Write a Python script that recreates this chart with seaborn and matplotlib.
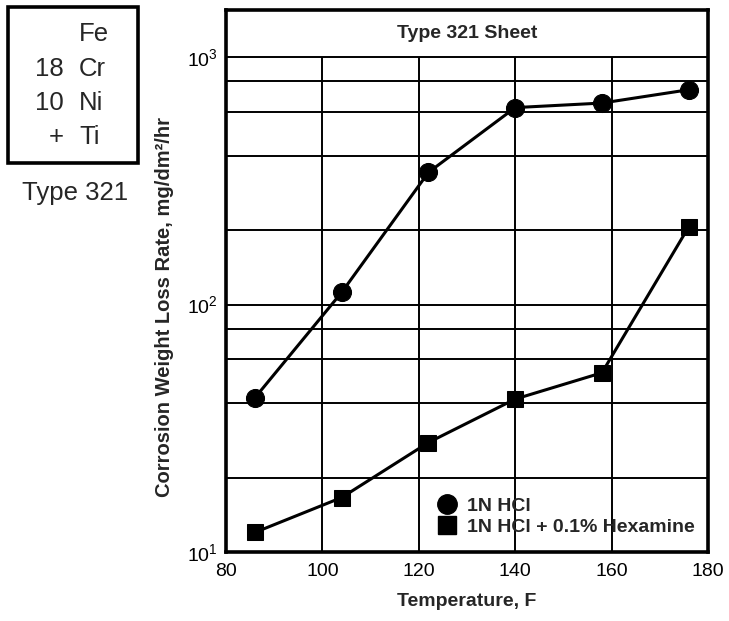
import numpy as np
import pandas as pd
import matplotlib
matplotlib.use("Agg")
import matplotlib.pyplot as plt
import seaborn as sns
from matplotlib.lines import Line2D
from matplotlib.patches import Rectangle
from matplotlib.ticker import FixedLocator, FuncFormatter, NullLocator

temps = [86, 104, 122, 140, 158, 176]
hcl = [42, 112, 342, 625, 652, 738]
hex_temps = [86, 104, 122, 140, 158, 176]
hexamine = [12, 16.6, 27.7, 41.5, 53, 206]
series_names = ["1N HCl", "1N HCl + 0.1% Hexamine"]
x_ticks = [80, 100, 120, 140, 160, 180]
y_ticks = [10, 100, 1000]
y_grid = [20, 40, 60, 80, 100, 200, 400, 600, 800, 1000]
x_grid = [100, 120, 140, 160]

df = pd.DataFrame({
    "Temperature": temps + hex_temps,
    "Rate": hcl + hexamine,
    "series": [series_names[0]] * len(temps) + [series_names[1]] * len(hex_temps),
})

sns.set_theme(style="white")
plt.rcParams["font.family"] = ["Liberation Sans", "DejaVu Sans"]
plt.rcParams["mathtext.default"] = "regular"

fig = plt.figure(figsize=(7.29, 6.21), dpi=100)
ax = fig.add_axes([226 / 729, 1 - 552 / 621, (708 - 226) / 729, (552 - 10) / 621])

ax.set_yscale("log")
ax.set_xlim(80, 180)
ymax = 10 ** (3 + 47 / 247)
ax.set_ylim(10, ymax)

# grid
for g in y_grid:
    ax.axhline(g, color="black", lw=1.4, zorder=1)
ax.vlines(x_grid, 10, 1000, color="black", lw=1.4, zorder=1)

d1 = df[df.series == series_names[0]]
d2 = df[df.series == series_names[1]]
sns.lineplot(data=d1, x="Temperature", y="Rate", ax=ax, color="black", lw=2.2,
             marker="o", markersize=13, markeredgecolor="black", legend=False, zorder=3)
sns.lineplot(data=d2, x="Temperature", y="Rate", ax=ax, color="black", lw=2.2,
             marker="s", markersize=12, markeredgecolor="black", legend=False, zorder=3)

for s in ax.spines.values():
    s.set_linewidth(2.6)
    s.set_color("black")

ax.xaxis.set_major_locator(FixedLocator(x_ticks))
ax.yaxis.set_major_locator(FixedLocator(y_ticks))
ax.yaxis.set_minor_locator(NullLocator())
ax.yaxis.set_major_formatter(FuncFormatter(lambda v, p: "10$^{%d}$" % round(np.log10(v))))
ax.tick_params(axis="both", length=0, labelsize=14, colors="black", pad=8)
ax.tick_params(axis="y", pad=6)

ax.set_xlabel("Temperature, F", fontsize=14, fontweight="bold", labelpad=9)
ax.set_ylabel("Corrosion Weight Loss Rate, mg/dm²/hr", fontsize=14.5, fontweight="bold")
ax.yaxis.set_label_coords(-0.108, 0.452)

ax.text(0.5, 1 - (33 - 10) / 542, "Type 321 Sheet", transform=ax.transAxes,
        ha="center", va="center", fontsize=14, fontweight="bold")

handles = [
    Line2D([], [], marker="o", color="black", linestyle="none", markersize=14),
    Line2D([], [], marker="s", color="black", linestyle="none", markersize=13),
]
leg = ax.legend(handles, ["1N HCl", "1N HCl + 0.1% Hexamine"], loc="lower right",
                bbox_to_anchor=(1.0, 0.005), frameon=False, handletextpad=0.5,
                labelspacing=0.15, prop={"weight": "bold", "size": 14}, handlelength=1.0,
                borderaxespad=0.3)

# composition box
fig.patches.append(Rectangle((8 / 729, 1 - 163 / 621), 130 / 729, 156 / 621,
                             transform=fig.transFigure, fill=False, lw=2.6, ec="black"))
rows = [("", "Fe"), ("18", "Cr"), ("10", "Ni"), ("+", "Ti")]
for i, (a, b) in enumerate(rows):
    y = 1 - (34 + i * 34.5) / 621
    fig.text(64 / 729, y, a, ha="right", va="center", fontsize=18.5)
    fig.text(79 / 729, y, b, ha="left", va="center", fontsize=18.5)
fig.text(75 / 729, 1 - 193 / 621, "Type 321", ha="center", va="center", fontsize=18.5)

fig.savefig("out.png", dpi=100)
